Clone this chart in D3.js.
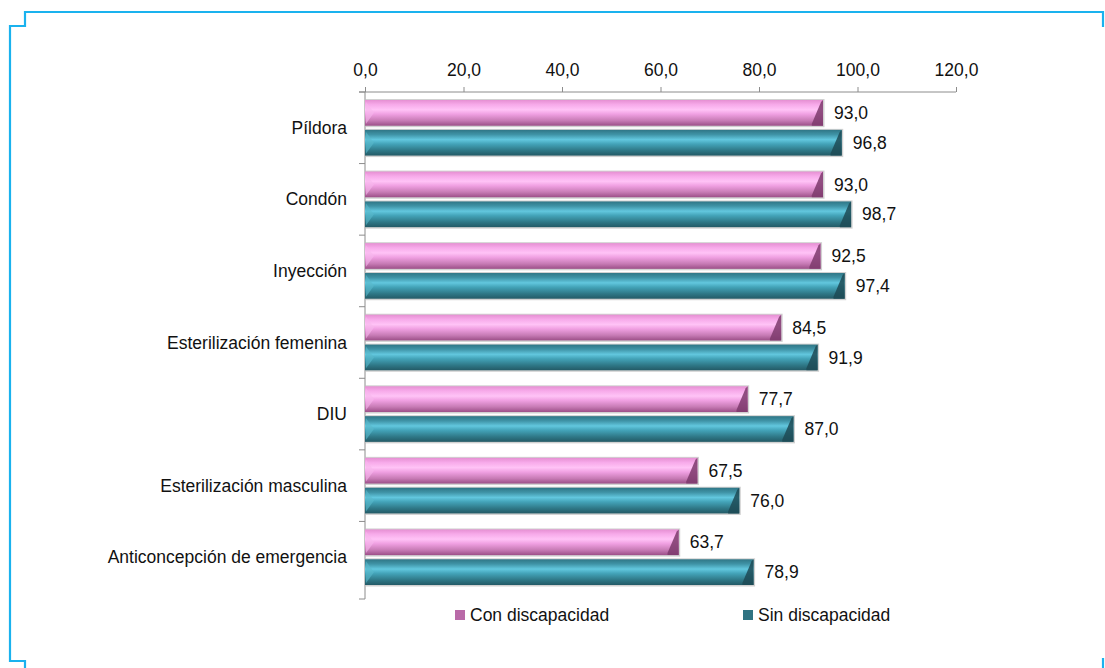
<!DOCTYPE html>
<html>
<head>
<meta charset="utf-8">
<script src="https://cdn.jsdelivr.net/npm/d3@7"></script>
<style>
  body { margin: 0; background: #fff; }
  svg { display: block; font-family: "Liberation Sans", Arial, sans-serif; }
</style>
</head>
<body>
<div id="chart"></div>
<script>
// Data
const categories = ["Píldora", "Condón", "Inyección", "Esterilización femenina", "DIU", "Esterilización masculina", "Anticoncepción de emergencia"];
const seriesNames = ["Con discapacidad", "Sin discapacidad"];
const conDiscapacidad = [93.0, 93.0, 92.5, 84.5, 77.7, 67.5, 63.7];
const sinDiscapacidad = [96.8, 98.7, 97.4, 91.9, 87.0, 76.0, 78.9];
const xTicks = [0, 20, 40, 60, 80, 100, 120];

const width = 1105;
const height = 668;
const fontSize = "17.5px";

const fmt = v => d3.format(".1f")(v).replace(".", ",");

const rows = categories.map((c, i) => ({
  cat: c,
  values: [
    {key: seriesNames[0], value: conDiscapacidad[i], s: 0},
    {key: seriesNames[1], value: sinDiscapacidad[i], s: 1}
  ]
}));

const svg = d3.select("#chart")
  .append("svg")
    .attr("width", width)
    .attr("height", height);

/*  Gradients for the bevelled bars  */
const defs = svg.append("defs");
const palettes = [
  {id: "gPink", stops: [["0%", "#e58fd2"], ["18%", "#f7aaea"], ["38%", "#ffc3f6"], ["55%", "#f0a0e2"], ["80%", "#c77bb5"], ["100%", "#9c4f88"]], cap: "#7d3a6c", light: "#f6b8ec"},
  {id: "gTeal", stops: [["0%", "#2f7686"], ["18%", "#3f93a6"], ["38%", "#62c7de"], ["55%", "#43a3b8"], ["80%", "#2f7887"], ["100%", "#235a66"]], cap: "#1d4a55", light: "#5ab9cc"}
];
palettes.forEach(p => {
  const g = defs.append("linearGradient")
    .attr("id", p.id)
    .attr("x1", 0).attr("y1", 0).attr("x2", 0).attr("y2", 1);
  p.stops.forEach(s => g.append("stop").attr("offset", s[0]).attr("stop-color", s[1]));
});

/*  Scales  */
const x = d3.scaleLinear()
  .domain([0, 120])
  .range([365, 956]);

const y = d3.scaleBand()
  .domain(categories)
  .range([92, 593]);

const ySub = d3.scaleBand()
  .domain([0, 1])
  .range([8, y.bandwidth() - 8])
  .paddingInner(0.14);

/*  Frame  */
svg.append("path")
  .attr("d", "M1103,27 V12 H25 V26 H10 V661 H25 V668")
  .attr("fill", "none")
  .attr("stroke", "#1ab2ee")
  .attr("stroke-width", 2.2);
svg.append("path")
  .attr("d", "M1103,658 V668")
  .attr("fill", "none")
  .attr("stroke", "#1ab2ee")
  .attr("stroke-width", 2.2);

/*  Axes  */
const axisColor = "#8c8c8c";
const topAxis = d3.axisTop(x)
  .tickValues(xTicks)
  .tickSize(5)
  .tickSizeOuter(0)
  .tickFormat(fmt);
const gx = svg.append("g")
  .attr("transform", "translate(0,92)")
  .call(topAxis);
gx.select(".domain").remove();
gx.append("line")
  .attr("x1", 359).attr("x2", x(120))
  .attr("stroke", axisColor);
gx.selectAll(".tick line").attr("stroke", axisColor);
gx.selectAll(".tick text")
  .attr("y", -16)
  .attr("fill", "#111")
  .style("font-size", fontSize)
  .style("font-family", "Liberation Sans, Arial, sans-serif");

// vertical axis
const gy = svg.append("g");
gy.append("line")
  .attr("x1", x(0)).attr("x2", x(0))
  .attr("y1", 92).attr("y2", 599)
  .attr("stroke", axisColor);
const boundaries = categories.map(c => y(c)).concat([599]);
gy.selectAll(".ytick")
  .data(boundaries)
  .join("line")
    .attr("x1", x(0) - 6).attr("x2", x(0))
    .attr("y1", d => d).attr("y2", d => d)
    .attr("stroke", axisColor);

gy.selectAll(".cat")
  .data(categories)
  .join("text")
    .attr("x", 347)
    .attr("y", d => y(d) + y.bandwidth() / 2)
    .attr("dy", "0.35em")
    .attr("text-anchor", "end")
    .attr("fill", "#111")
    .style("font-size", fontSize)
    .text(d => d);

/*  Bars  */
const groups = svg.append("g")
  .selectAll("g")
  .data(rows)
  .join("g")
    .attr("transform", d => `translate(0,${y(d.cat)})`);

const bars = groups.selectAll("g")
  .data(d => d.values)
  .join("g");

const bh = ySub.bandwidth();

// soft grey shadow/outline
bars.append("rect")
  .attr("x", x(0))
  .attr("y", d => ySub(d.s) - 1)
  .attr("width", d => x(d.value) - x(0) + 1.5)
  .attr("height", bh + 2.5)
  .attr("fill", "#bdbdbd")
  .attr("opacity", 0.7);

bars.append("rect")
  .attr("x", x(0))
  .attr("y", d => ySub(d.s))
  .attr("width", d => x(d.value) - x(0))
  .attr("height", bh)
  .attr("fill", d => `url(#${palettes[d.s].id})`);

// dark bevel at the right end
bars.append("path")
  .attr("d", d => {
    const x1 = x(d.value), y0 = ySub(d.s), b = 7;
    return `M${x1 - b * 1.6},${y0 + bh - 2} L${x1 - 2},${y0 + 2} L${x1},${y0} L${x1},${y0 + bh} L${x1 - b * 1.6},${y0 + bh} Z`;
  })
  .attr("fill", d => palettes[d.s].cap)
  .attr("opacity", 0.85);

// light bevel at the left end
bars.append("path")
  .attr("d", d => {
    const x0 = x(0) + 1, y0 = ySub(d.s);
    return `M${x0},${y0 + 2} L${x0 + 8},${y0 + bh / 2} L${x0},${y0 + bh - 2} Z`;
  })
  .attr("fill", d => palettes[d.s].light)
  .attr("opacity", 0.6);

// value labels
bars.append("text")
  .attr("x", d => x(d.value) + 11)
  .attr("y", d => ySub(d.s) + bh / 2)
  .attr("dy", "0.35em")
  .attr("fill", "#111")
  .style("font-size", fontSize)
  .text(d => fmt(d.value));

/*  Legend  */
const legendX = [455, 743];
const legend = svg.append("g")
  .selectAll("g")
  .data(seriesNames)
  .join("g")
    .attr("transform", (d, i) => `translate(${legendX[i]},615)`);
legend.append("rect")
  .attr("x", 0).attr("y", -5)
  .attr("width", 10).attr("height", 10)
  .attr("fill", (d, i) => i === 0 ? "#b96aa8" : "#2f7382");
legend.append("text")
  .attr("x", 15)
  .attr("dy", "0.35em")
  .attr("fill", "#111")
  .style("font-size", fontSize)
  .text(d => d);
</script>
</body>
</html>
